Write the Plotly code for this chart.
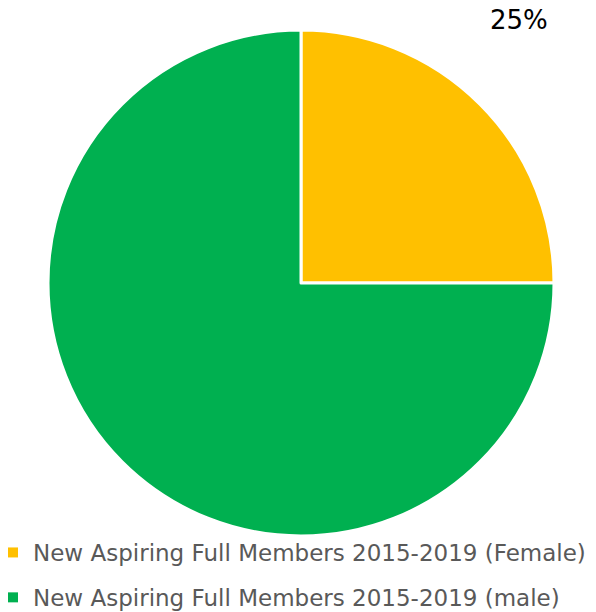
import plotly.graph_objects as go

labels = ["New Aspiring Full Members 2015-2019 (Female)",
          "New Aspiring Full Members 2015-2019 (male)"]
values = [25, 75]
colors = ["#FFC000", "#00B050"]

W, H = 596, 612
fig = go.Figure()
fig.add_trace(go.Pie(
    labels=labels, values=values, sort=False, direction="clockwise", rotation=0,
    marker=dict(colors=colors, line=dict(color="white", width=3)),
    textinfo="none", showlegend=False, hoverinfo="label+percent",
    domain=dict(x=[40 / W, 546 / W], y=[1 - 528 / H, 1 - 22 / H]),
))
for i, (lab, col) in enumerate(zip(labels, colors)):
    fig.add_trace(go.Scatter(
        x=[None], y=[None], mode="markers", name=lab, legendgroup=f"g{i}",
        marker=dict(symbol="square", size=10, color=col),
    ))

total = sum(values)
pct = f"{values[0] / total * 100:.0f}%"
fig.add_annotation(text=pct, x=511 / W, y=1 - 12 / H, xref="paper", yref="paper",
                   xanchor="center", yanchor="middle",
                   showarrow=False, font=dict(size=26, color="#000000", family="DejaVu Sans"))

fig.update_layout(
    width=W, height=H, margin=dict(l=0, r=0, t=0, b=0, autoexpand=False),
    paper_bgcolor="white", plot_bgcolor="white",
    xaxis=dict(visible=False), yaxis=dict(visible=False),
    legend=dict(x=-15 / W, xanchor="left", y=1 - 523 / H, yanchor="top",
                font=dict(size=23, color="#595959", family="DejaVu Sans"),
                tracegroupgap=12, bgcolor="rgba(0,0,0,0)"),
)
fig.write_html("out.html")
